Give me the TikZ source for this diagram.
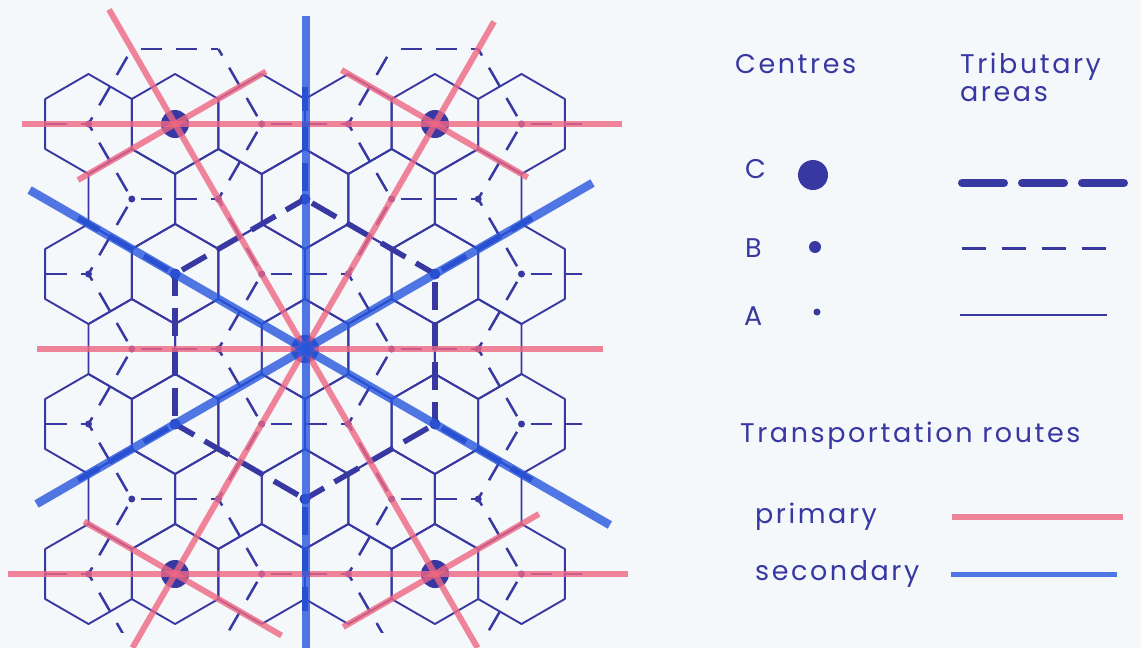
\documentclass[tikz,border=0pt]{standalone}
\usepackage{fontspec}
\setmainfont{Poppins}[LetterSpace=9.5]
\definecolor{navy}{RGB}{56,56,162}
\definecolor{pinkr}{RGB}{238,102,130}
\definecolor{bluer}{RGB}{38,86,220}
\definecolor{paper}{RGB}{245,248,250}
\begin{document}
\begin{tikzpicture}[x=1pt,y=-1pt,
  ahex/.style={draw=navy,line width=1.9pt,line join=round},
  bline/.style={draw=navy,line width=2.5pt,dash pattern=on 21pt off 14pt,dash phase=26pt},
  cline/.style={draw=navy,line width=5.5pt,dash pattern=on 28pt off 12pt,dash phase=32pt},
  prim/.style={draw=pinkr,line width=6pt,opacity=0.8},
  sec/.style={draw=bluer,line width=8.5pt,opacity=0.8},
  lbl/.style={text=navy,font=\fontsize{27}{30}\selectfont,inner sep=0pt,anchor=base west}]
\fill[paper] (0,0) rectangle (1141,648);
\useasboundingbox (0,0) rectangle (1141,648);
\coordinate (O) at (305,349);
% A hexagons and A dots
\foreach \j/\imin/\imax in {3/-4/1,2/-3/1,1/-3/2,0/-2/2,-1/-2/3,-2/-1/3,-3/-1/4}{
  \foreach \i in {\imin,...,\imax}{
    \pgfmathsetmacro\X{305+86.6*(\i+\j/2)}
    \pgfmathsetmacro\Y{349-75*\j}
    \pgfmathtruncatemacro\t{mod(mod(\i-\j,3)+3,3)}
    \draw[ahex] (\X,\Y) +(30:50) -- +(90:50) -- +(150:50) -- +(210:50) -- +(270:50) -- +(330:50) -- cycle;
    \ifnum\t>0 \fill[navy] (\X,\Y) circle[radius=3.5pt];\fi
  }
}
% B tributary areas (honeycomb between A centres)
\begin{scope}
\clip (36,47) rectangle (582,632);
\foreach \j in {-4,...,4}{
  \foreach \i in {-8,...,6}{
    \pgfmathtruncatemacro\t{mod(mod(\i-\j,3)+3,3)}
    \ifnum\t=1
      \pgfmathsetmacro\X{305+86.6*(\i+\j/2)}
      \pgfmathsetmacro\Y{349-75*\j}
      \draw[bline] (\X,\Y) -- +(86.6,0);
      \draw[bline] (\X,\Y) -- +(-43.3,75);
      \draw[bline] (\X,\Y) -- +(-43.3,-75);
    \fi
  }
}
\end{scope}
% C tributary area
\foreach \a in {30,90,...,330}{
  \draw[cline] ([shift={(\a:150)}]O) -- ([shift={(\a+60:150)}]O);
  \draw[cline] ([shift={(\a:150)}]O) -- ([shift={(\a:262)}]O);
}
% B centres
\foreach \a in {30,90,...,330}{
  \fill[navy] ([shift={(\a:150)}]O) circle[radius=5.5pt];
}
% C centres
\coordinate (C0) at (O);
\coordinate (C1) at (175,124);
\coordinate (C2) at (435,124);
\coordinate (C3) at (175,574);
\coordinate (C4) at (435,574);
\foreach \c in {C0,C1,C2,C3,C4}{\fill[navy] (\c) circle[radius=14pt];}
% primary routes
\coordinate (h1a) at (22,124); \coordinate (h1b) at (622,124);
\coordinate (h2a) at (37,349); \coordinate (h2b) at (603,349);
\coordinate (h3a) at (8,574);  \coordinate (h3b) at (628,574);
\coordinate (d1a) at ([shift={(240:392)}]O); \coordinate (d1b) at ([shift={(60:345)}]O);
\coordinate (d2a) at ([shift={(300:378)}]O); \coordinate (d2b) at ([shift={(120:345)}]O);
\coordinate (s1a) at ([shift={(150:112)}]C1); \coordinate (s1b) at ([shift={(330:105)}]C1);
\coordinate (s2a) at ([shift={(210:108)}]C2); \coordinate (s2b) at ([shift={(30:107)}]C2);
\coordinate (s3a) at ([shift={(210:105)}]C3); \coordinate (s3b) at ([shift={(30:123)}]C3);
\coordinate (s4a) at ([shift={(150:106)}]C4); \coordinate (s4b) at ([shift={(330:120)}]C4);
\foreach \p/\q in {h1a/h1b,h2a/h2b,h3a/h3b,d1a/d1b,d2a/d2b,s1a/s1b,s2a/s2b,s3a/s3b,s4a/s4b}{
  \draw[prim] (\p) -- (\q);
}
% secondary routes
\coordinate (v1a) at (306,16); \coordinate (v1b) at (306,648);
\coordinate (e1a) at ([shift={(210:318)}]O); \coordinate (e1b) at ([shift={(30:352)}]O);
\coordinate (e2a) at ([shift={(150:310)}]O); \coordinate (e2b) at ([shift={(330:332)}]O);
\foreach \p/\q in {v1a/v1b,e1a/e1b,e2a/e2b}{
  \draw[sec] (\p) -- (\q);
}
% legend
\node[lbl] (tc) at (735,73) {Centres};
\node[lbl] (tt) at (960,73) {Tributary};
\node[lbl] (ta) at (960,101) {areas};
\node[lbl] (lC) at (745,178) {C};
\node[lbl] (lB) at (745,257) {B};
\node[lbl] (lA) at (744,325) {A};
\fill[navy] (813,175) circle[radius=15pt];
\fill[navy] (815,247) circle[radius=6pt];
\fill[navy] (817,312) circle[radius=3.5pt];
\coordinate (lc1) at (962,183); \coordinate (lc2) at (1130,183);
\coordinate (lb1) at (962,248); \coordinate (lb2) at (1106,248);
\coordinate (la1) at (960,315); \coordinate (la2) at (1107,315);
\draw[navy,line width=8pt,line cap=round,dash pattern=on 42pt off 18pt] (lc1) -- (lc2);
\draw[navy,line width=3pt,dash pattern=on 24pt off 16pt] (lb1) -- (lb2);
\draw[navy,line width=2pt] (la1) -- (la2);
\node[lbl] (tr) at (740,442) {Transportation routes};
\node[lbl] (tp) at (755,523) {primary};
\node[lbl] (ts) at (755,580) {secondary};
\coordinate (lp1) at (952,517); \coordinate (lp2) at (1123,517);
\coordinate (ls1) at (951,574); \coordinate (ls2) at (1117,574);
\draw[prim] (lp1) -- (lp2);
\draw[sec,line width=5pt] (ls1) -- (ls2);
\end{tikzpicture}
\end{document}
